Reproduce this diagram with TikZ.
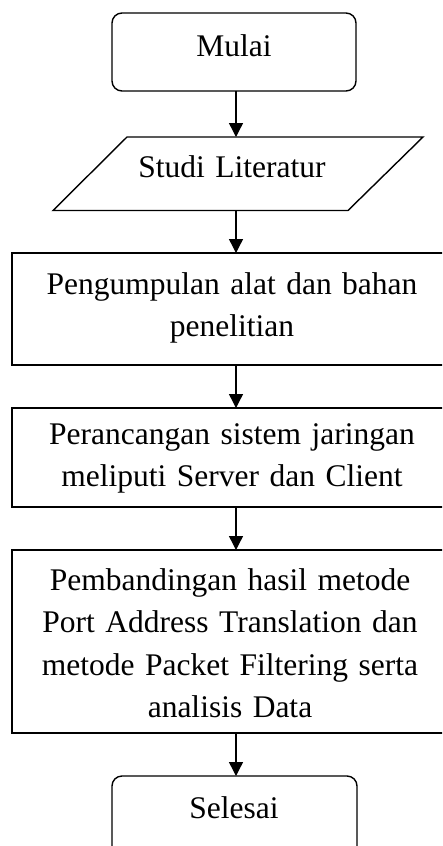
\documentclass[tikz,border=0pt]{standalone}
\usepackage{fontspec}
\setmainfont{Liberation Serif}
\usetikzlibrary{arrows.meta}
\tikzset{
  flowline/.style={line width=1.4pt, draw=black},
  shapebox/.style={flowline, rectangle, inner sep=0pt, outer sep=0pt},
  termbox/.style={shapebox, rounded corners=10pt},
  ghost/.style={rectangle, inner sep=0pt, outer sep=0pt},
  label text/.style={font=\fontsize{31.5}{42.5}\selectfont, inner sep=0pt, anchor=base, align=center, text width=420pt},
  flowarrow/.style={flowline, -{Triangle[width=14pt,length=14pt]}}
}
\begin{document}
\begin{tikzpicture}[x=1pt,y=-1pt]
\useasboundingbox (0,0) rectangle (442,846);
\clip (0,0) rectangle (442,846);
\fill[white] (0,0) rectangle (442,846);
% shapes
\node[termbox, minimum width=244pt, minimum height=78pt] (mulai) at (234,52) {};
\draw[flowline] (127,137) -- (423,137) -- (348,210.5) -- (53,210.5) -- cycle;
\node[ghost, minimum width=220pt, minimum height=73.5pt] (studi) at (236,173.75) {};
\node[shapebox, minimum width=448pt, minimum height=112pt] (alat) at (236,309) {};
\node[shapebox, minimum width=448pt, minimum height=99pt] (rancang) at (236,457.5) {};
\node[shapebox, minimum width=448pt, minimum height=183pt] (banding) at (236,641.5) {};
\node[termbox, minimum width=245pt, minimum height=84pt] (selesai) at (234.5,818) {};
% texts
\node[label text] (tmulai) at (234,56) {Mulai};
\node[label text] (tstudi) at (232,177) {Studi Literatur};
\node[label text] (talat) at (232,294) {Pengumpulan alat dan bahan\\penelitian};
\node[label text] (trancang) at (232,444) {Perancangan sistem jaringan\\meliputi Server dan Client};
\node[label text] (tbanding) at (230,590) {Pembandingan hasil metode\\Port Address Translation dan\\metode Packet Filtering serta\\analisis Data};
\node[label text] (tselesai) at (234,818) {Selesai};
% connectors
\draw[flowarrow] (mulai.south -| studi.north) -- (studi.north);
\draw[flowarrow] (studi.south) -- (studi.south |- alat.north);
\draw[flowarrow] (alat.south) -- (rancang.north);
\draw[flowarrow] (rancang.south) -- (banding.north);
\draw[flowarrow] (banding.south) -- (banding.south |- selesai.north);
\end{tikzpicture}
\end{document}
